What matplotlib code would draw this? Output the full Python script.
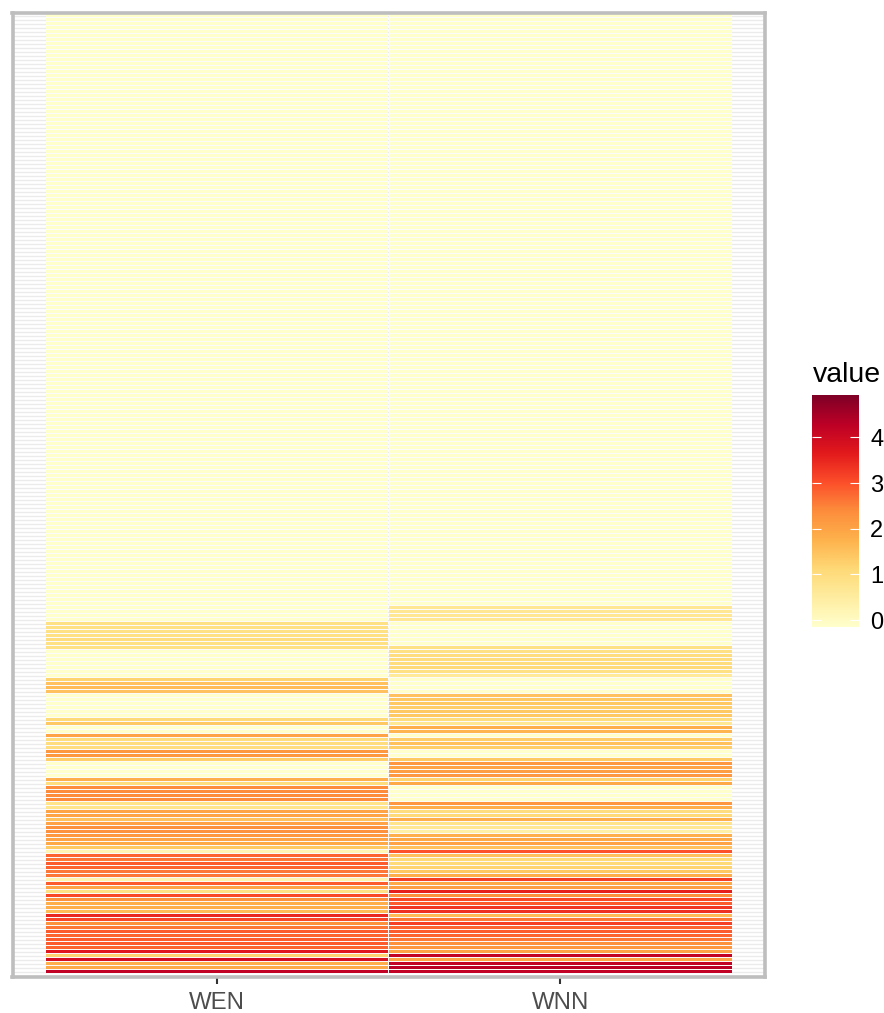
import numpy as np
import matplotlib.pyplot as plt

plt.rcParams['font.family'] = ['Liberation Sans', 'DejaVu Sans']

samples = ['WEN', 'WNN']
legend_ticks = [0, 1, 2, 3, 4]
value_min = -0.15
value_max = 4.93
b = -0.15  # value of the pale rows, same as the bottom of the colour bar

# one value per row, top row first
wen = [
    b, b, b, b, b, b, b, b, b, b, b, b, b, b, b, b, b, b, b, b,
    b, b, b, b, b, b, b, b, b, b, b, b, b, b, b, b, b, b, b, b,
    b, b, b, b, b, b, b, b, b, b, b, b, b, b, b, b, b, b, b, b,
    b, b, b, b, b, b, b, b, b, b, b, b, b, b, b, b, b, b, b, b,
    b, b, b, b, b, b, b, b, b, b, b, b, b, b, b, b, b, b, b, b,
    b, b, b, b, b, b, b, b, b, b, b, b, b, b, b, b, b, b, b, b,
    b, b, b, b, b, b, b, b, b, b, b, b, b, b, b, b, b, b, b, b,
    b, b, b, b, b, b, b, b, b, b, b, b,
    0.9, 0.9, 0.9, 0.9, 1.0, 0.9, 0.9,
    b, b, b, b, b, b, b,
    1.2, 1.5, 1.6, 1.5,
    b, b, b, b, b, b,
    1.1, 1.4, b, b,
    2.0, 1.0, 1.0, 1.0, 2.2, 2.2, 1.3, b, b, b, b,
    1.8, 1.0, 2.4, 2.4, 2.4, 2.4, 0.8, 0.8, 2.0,
    2.0, 1.5, 2.0, 2.3, 2.3, 2.2, 2.0, 1.9, 1.4, 0.2,
    2.8, 2.6, 2.9, 2.8, 2.6, 2.6, 0.3, 2.9, 2.0, 0.9,
    3.1, 2.3, 1.8, 1.8, 1.6, 3.5, 3.1, 2.3, 2.6, 2.9,
    2.8, 2.9, 2.9, 2.8, 3.7, 1.2, 3.9, 1.8, 1.9, 4.2,
]
wnn = [
    b, b, b, b, b, b, b, b, b, b, b, b, b, b, b, b, b, b, b, b,
    b, b, b, b, b, b, b, b, b, b, b, b, b, b, b, b, b, b, b, b,
    b, b, b, b, b, b, b, b, b, b, b, b, b, b, b, b, b, b, b, b,
    b, b, b, b, b, b, b, b, b, b, b, b, b, b, b, b, b, b, b, b,
    b, b, b, b, b, b, b, b, b, b, b, b, b, b, b, b, b, b, b, b,
    b, b, b, b, b, b, b, b, b, b, b, b, b, b, b, b, b, b, b, b,
    b, b, b, b, b, b, b, b, b, b, b, b, b, b, b, b, b, b, b, b,
    b, b, b, b, b, b, b, b,
    0.7, 0.7, 0.7, 0.7,
    b, b, b, b, b, b,
    0.9, 0.9, 1.0, 1.0, 1.0, 1.1, 0.9, 0.6,
    b, b, b, b,
    1.5, 1.4, 1.4, 1.3, 1.4, 1.4, 1.0, 0.7, 1.8, 1.7,
    b, 1.3, 1.5, 1.3, b, b,
    1.4, 2.2, 2.0, 2.1, 2.2, 1.2, 1.9,
    b, b, b, b,
    2.2, 1.8, 1.0,
    1.1, 1.8, 0.8, 0.7, 0.4, 1.8, 1.9, 2.0, 1.5, 3.0,
    1.5, 1.1, 1.1, 1.2, 1.4, 1.8, 3.2, 1.9, 2.1, 3.6,
    2.3, 3.1, 2.9, 3.3, 3.4, 1.6, 2.6, 3.2, 2.8, 2.9,
    2.8, 2.6, 2.3, 2.2, 2.0, 4.2, 2.0, 4.2, 4.3, 4.2,
]

W, H = 884, 1013
fig = plt.figure(figsize=(W / 100, H / 100), dpi=100)

# panel, in pixels of the reference
left, right, top, bottom = 12.5, 765.5, 12.5, 976.5
ax = fig.add_axes([left / W, 1 - bottom / H, (right - left) / W, (bottom - top) / H])

cmap = plt.get_cmap('YlOrRd')
norm = plt.Normalize(value_min, value_max)
rows = np.arange(len(wen))

# thin gaps between tiles stand in for the white tile borders
for index, values in enumerate([wen, wnn]):
    ax.barh(rows, 0.996, left=index + 0.502, height=0.75, color=cmap(norm(values)),
            linewidth=0, zorder=3)

ax.set_xlim(0.4047, 2.5968)
ax.set_ylim(240.2, -0.8)
ax.set_xticks([1, 2])
ax.set_xticklabels(samples, fontsize=17.3, color='#4D4D4D')
ax.set_yticks(rows)
ax.tick_params(axis='y', left=False, labelleft=False)
ax.tick_params(axis='x', length=5, width=1.5, color='#333333', pad=6)
ax.grid(True, axis='y', color='#EBEBEB', linewidth=1.0, zorder=1)
ax.set_axisbelow(True)
for side in ax.spines.values():
    side.set_color('#BEBEBE')
    side.set_linewidth(2.6)
    side.set_zorder(5)

# legend colour bar
bar_left, bar_right, bar_top, bar_bottom = 812, 859, 395, 627
cax = fig.add_axes([bar_left / W, 1 - bar_bottom / H, (bar_right - bar_left) / W, (bar_bottom - bar_top) / H])
gradient = np.linspace(value_max, value_min, 300).reshape(-1, 1)
cax.imshow(gradient, cmap=cmap, norm=norm, aspect='auto',
           extent=[0, 1, value_min, value_max], interpolation='bilinear')
cax.set_xlim(0, 1)
cax.set_ylim(value_min, value_max)
cax.set_xticks([])
cax.set_yticks(legend_ticks)
cax.tick_params(axis='y', left=False, right=False, length=0, labelleft=False, labelright=True,
                labelsize=17, pad=8, labelcolor='black')
for t in legend_ticks:
    cax.plot([0, 0.2], [t, t], color='white', linewidth=0.8, solid_capstyle='butt')
    cax.plot([0.8, 1], [t, t], color='white', linewidth=0.8, solid_capstyle='butt')
for side in cax.spines.values():
    side.set_visible(False)

fig.text(812.5 / W, 1 - 375 / H, 'value', fontsize=20.5, color='black', ha='left', va='center')

plt.savefig('out.png', dpi=100)
